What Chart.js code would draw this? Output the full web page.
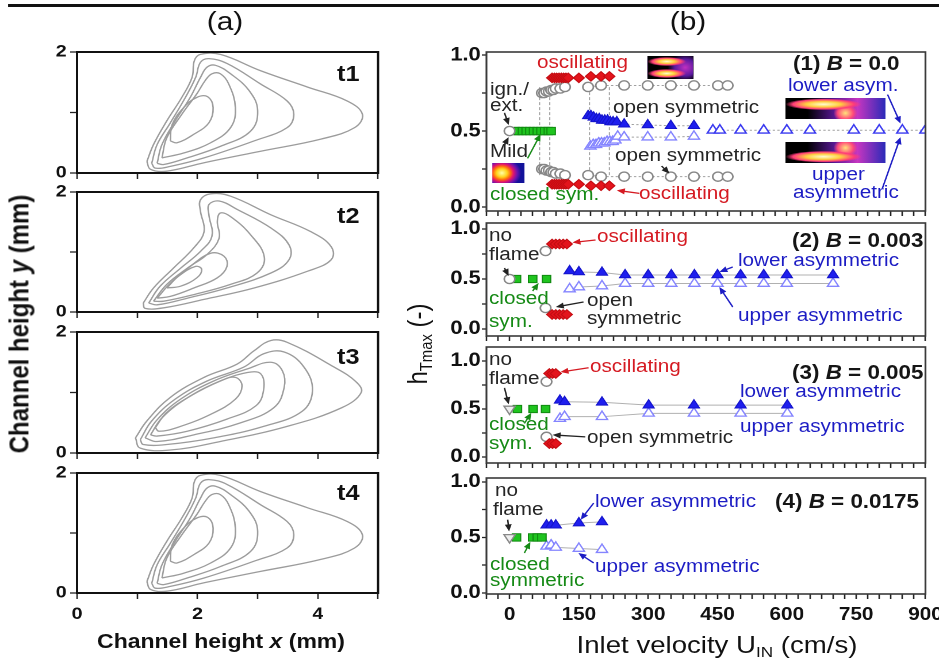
<!DOCTYPE html>
<html>
<head>
<meta charset="utf-8">
<script src="https://cdn.jsdelivr.net/npm/chart.js@4.4.1/dist/chart.umd.min.js"></script>
<style>
html, body { margin: 0; padding: 0; background: #fff; }
body { width: 939px; height: 664px; overflow: hidden; position: relative; font-family: "Liberation Sans", Arial, sans-serif; }
#stage { position: absolute; left: 0; top: 0; width: 817px; height: 664px; transform: scaleX(1.15); transform-origin: 0 0; }
canvas { position: absolute; }
.t { position: absolute; white-space: nowrap; line-height: 1; transform: translateY(-50%); font-size: 18px; color: #252525; }
.red { color: #d51a22; }
.blue { color: #1c1cc4; }
.green { color: #168a16; }
.bl { font-weight: bold; font-size: 19.5px; color: #151515; }
.tl { font-weight: bold; font-size: 22px; color: #111; }
.hd { font-size: 26px; color: #111; transform: translate(-50%, -50%); }
.ttl { font-weight: bold; font-size: 20px; color: #111; transform: translate(-50%, -50%); }
.rot { position: absolute; white-space: nowrap; line-height: 1; transform: translate(-50%, -50%) rotate(-90deg); color: #111; }
sub { font-size: 62%; vertical-align: -0.3em; line-height: 0; }
.ins { position: absolute; }
#rule { position: absolute; left: 7px; top: 4px; width: 810px; height: 3px; background: #111; }
</style>
</head>
<body>
<div id="stage"><div id="rule"></div></div>
<script>
// ---------- panel (a): contour lines, [x mm, y mm] ----------
const t1Outer = [[1.16,0.19],[1.27,0.47],[1.49,0.86],[1.74,1.25],[1.91,1.58],[1.95,1.86],[2.05,1.96],[2.38,1.96],[3.05,1.69],[3.83,1.42],[4.49,1.19],[4.74,0.97],[4.61,0.75],[4.05,0.56],[3.05,0.36],[2.11,0.17],[1.49,0.03],[1.22,0.06]];
const t1C2 = [[1.24,0.16],[1.33,0.47],[1.55,0.83],[1.8,1.25],[1.97,1.58],[2.05,1.83],[2.19,1.89],[2.49,1.81],[3.05,1.47],[3.49,1.19],[3.6,0.97],[3.49,0.75],[2.94,0.53],[2.11,0.25],[1.55,0.11],[1.3,0.08]];
const t1C3 = [[1.33,0.16],[1.41,0.47],[1.63,0.86],[1.88,1.25],[2.05,1.58],[2.16,1.75],[2.3,1.78],[2.55,1.64],[2.86,1.36],[3.0,1.03],[2.88,0.69],[2.38,0.44],[1.83,0.25],[1.44,0.14]];
const t1C4 = [[1.41,0.25],[1.49,0.58],[1.74,0.97],[1.99,1.31],[2.13,1.53],[2.24,1.64],[2.38,1.64],[2.52,1.47],[2.63,1.08],[2.55,0.75],[2.22,0.5],[1.77,0.33]];
const t1Inner = [[1.55,0.53],[1.58,0.8],[1.77,1.08],[1.99,1.25],[2.17,1.26],[2.26,1.08],[2.19,0.83],[1.94,0.64],[1.66,0.5]];

const t2Outer = [[1.1,0.15],[1.27,0.4],[1.6,0.73],[1.94,1.07],[2.11,1.34],[2.05,1.68],[2.05,1.87],[2.22,1.97],[2.55,1.93],[3.22,1.62],[3.88,1.34],[4.22,1.09],[4.22,0.87],[3.83,0.68],[2.94,0.4],[2.11,0.21],[1.44,0.07],[1.13,0.06]];
const t2C2 = [[1.19,0.15],[1.38,0.43],[1.72,0.73],[2.05,1.01],[2.24,1.26],[2.19,1.62],[2.19,1.79],[2.36,1.85],[2.66,1.71],[3.22,1.4],[3.52,1.12],[3.52,0.87],[3.22,0.65],[2.49,0.4],[1.83,0.23],[1.33,0.12]];
const t2C3 = [[1.27,0.18],[1.49,0.46],[1.83,0.73],[2.16,0.96],[2.36,1.23],[2.33,1.51],[2.38,1.65],[2.55,1.59],[2.88,1.29],[3.11,0.92],[2.99,0.65],[2.55,0.46],[1.94,0.29],[1.44,0.18]];
const t2C4 = [[1.33,0.23],[1.55,0.48],[1.88,0.76],[2.22,0.98],[2.44,0.93],[2.49,0.76],[2.33,0.57],[1.94,0.4],[1.55,0.26]];
const t2Inner = [[1.49,0.4],[1.69,0.6],[1.97,0.76],[2.07,0.71],[1.99,0.57],[1.72,0.43]];

const t3Outer = [[0.97,0.25],[1.16,0.53],[1.55,0.92],[2.11,1.25],[2.66,1.47],[2.94,1.69],[3.22,1.86],[3.49,1.83],[4.27,1.42],[4.63,1.18],[4.72,1.0],[4.4,0.75],[3.49,0.44],[2.38,0.19],[1.55,0.05],[1.05,0.08]];
const t3C2 = [[1.05,0.22],[1.24,0.53],[1.63,0.89],[2.16,1.19],[2.77,1.42],[3.1,1.64],[3.44,1.67],[3.77,1.42],[3.91,1.03],[3.74,0.69],[3.1,0.44],[2.27,0.25],[1.49,0.14],[1.1,0.14]];
const t3C3 = [[1.13,0.25],[1.33,0.55],[1.72,0.89],[2.27,1.19],[2.83,1.39],[3.22,1.5],[3.41,1.36],[3.44,1.08],[3.27,0.75],[2.72,0.5],[1.94,0.3],[1.33,0.19]];
const t3C4 = [[1.22,0.3],[1.41,0.58],[1.8,0.89],[2.33,1.17],[2.83,1.33],[3.05,1.31],[3.1,1.05],[2.97,0.78],[2.49,0.56],[1.83,0.36],[1.33,0.28]];
const t3Inner = [[1.3,0.42],[1.49,0.67],[1.88,0.94],[2.38,1.19],[2.63,1.25],[2.74,1.11],[2.63,0.89],[2.22,0.64],[1.66,0.42],[1.36,0.36]];

const t1Contours = [t1Outer, t1C2, t1C3, t1C4, t1Inner];
const t2Contours = [t2Outer, t2C2, t2C3, t2C4, t2Inner];
const t3Contours = [t3Outer, t3C2, t3C3, t3C4, t3Inner];
const t4Contours = t1Contours; // t4 looks the same as t1

const aTicksX = [0, 1, 2, 3, 4, 5];
const aTickLabelsX = [0, 2, 4];
const aTicksY = [0, 1, 2];
const aTickLabelsY = [0, 2];

// ---------- panel (b): h_Tmax vs inlet velocity ----------
// (1) B = 0.0
const b0MildX = [0], b0MildY = [0.5];
const b0ClosedX = [12, 20, 28, 36, 44, 52, 60, 68, 76, 84, 90];
const b0ClosedY = [0.5, 0.5, 0.5, 0.5, 0.5, 0.5, 0.5, 0.5, 0.5, 0.5, 0.5];
const b0IgnX = [70, 75, 80, 85, 90, 95, 100, 110, 120];
const b0IgnUpY = [0.75, 0.75, 0.76, 0.76, 0.77, 0.77, 0.78, 0.78, 0.79];
const b0IgnLoY = [0.25, 0.25, 0.24, 0.24, 0.23, 0.23, 0.22, 0.22, 0.21];
const b0OpenX = [170, 198, 248, 299, 349, 399, 451, 472];
const b0OpenUpY = [0.79, 0.8, 0.8, 0.8, 0.8, 0.8, 0.8, 0.8];
const b0OpenLoY = [0.21, 0.2, 0.2, 0.2, 0.2, 0.2, 0.2, 0.2];
const b0OscX = [92, 97, 102, 107, 112, 117, 122, 127, 150, 176, 198, 216];
const b0OscUpY = [0.85, 0.85, 0.85, 0.85, 0.85, 0.85, 0.85, 0.85, 0.85, 0.86, 0.86, 0.86];
const b0OscLoY = [0.15, 0.15, 0.15, 0.15, 0.15, 0.15, 0.15, 0.15, 0.15, 0.14, 0.14, 0.14];
const b0LowAsymX = [170, 176, 182, 188, 194, 200, 206, 212, 218, 224, 232, 248, 299, 349, 399];
const b0LowAsymY = [0.6, 0.6, 0.59, 0.58, 0.58, 0.57, 0.57, 0.57, 0.56, 0.56, 0.56, 0.545, 0.54, 0.535, 0.535];
const b0UpAsymX = [175, 181, 187, 193, 199, 205, 211, 217, 223, 229, 234, 248, 299, 349, 399];
const b0UpAsymY = [0.4, 0.41, 0.41, 0.42, 0.42, 0.42, 0.43, 0.43, 0.43, 0.44, 0.465, 0.46, 0.46, 0.46, 0.465];
const b0MergedX = [440, 455, 500, 550, 600, 650, 745, 800, 850, 900];
const b0MergedY = [0.505, 0.505, 0.505, 0.505, 0.505, 0.505, 0.505, 0.505, 0.505, 0.505];
const b0VLineX = [65, 87, 173, 216];
const b0VLineY = [0.21, 0.79];

// (2) B = 0.003
const b1NoFlameX = [0], b1NoFlameY = [0.5];
const b1ClosedX = [15, 50, 80], b1ClosedY = [0.5, 0.5, 0.5];
const b1OpenX = [78], b1OpenUpY = [0.78], b1OpenLoY = [0.21];
const b1OscX = [92, 100, 108, 116, 124];
const b1OscUpY = [0.85, 0.85, 0.85, 0.85, 0.85];
const b1OscLoY = [0.145, 0.145, 0.145, 0.145, 0.145];
const b1AsymX = [130, 150, 200, 250, 300, 350, 400, 450, 500, 550, 600, 700];
const b1LowAsymY = [0.58, 0.57, 0.565, 0.54, 0.54, 0.54, 0.54, 0.54, 0.54, 0.54, 0.54, 0.54];
const b1UpAsymY = [0.4, 0.42, 0.43, 0.455, 0.455, 0.455, 0.455, 0.455, 0.455, 0.455, 0.455, 0.455];

// (3) B = 0.005
const b2NoFlameX = [0], b2NoFlameY = [0.5];
const b2ClosedX = [17, 51, 78], b2ClosedY = [0.5, 0.5, 0.5];
const b2OpenX = [80], b2OpenUpY = [0.785], b2OpenLoY = [0.21];
const b2OscX = [86, 93, 100];
const b2OscUpY = [0.87, 0.87, 0.87];
const b2OscLoY = [0.14, 0.14, 0.14];
const b2AsymX = [109, 119, 200, 301, 399, 500, 601];
const b2LowAsymY = [0.59, 0.575, 0.57, 0.54, 0.54, 0.54, 0.54];
const b2UpAsymY = [0.4, 0.42, 0.42, 0.455, 0.455, 0.455, 0.455];

// (4) B = 0.0175
const b3NoFlameX = [0], b3NoFlameY = [0.5];
const b3ClosedX = [15, 50, 60, 70], b3ClosedY = [0.5, 0.5, 0.5, 0.5];
const b3AsymX = [80, 90, 100, 150, 200];
const b3LowAsymY = [0.61, 0.61, 0.61, 0.63, 0.64];
const b3UpAsymY = [0.42, 0.43, 0.41, 0.4, 0.39];

const bTickLabelsX = [0, 150, 300, 450, 600, 750, 900];
const bTicksY = [0, 0.25, 0.5, 0.75, 1];
const bTickLabelsY = [0, 0.5, 1];
const bTicksX = [];
for (let v = -50; v <= 900; v += 25) bTicksX.push(v);

// ---------- helpers ----------
const S = 1.15; // the figure is stretched horizontally
const FONT = '"Liberation Sans", Arial, sans-serif';
const stage = document.getElementById('stage');
Chart.defaults.font.family = FONT;

function addText(html, x, y, cls) {
  const d = document.createElement('div');
  d.className = 't ' + (cls || '');
  d.innerHTML = html;
  d.style.left = (x / S) + 'px';
  d.style.top = y + 'px';
  stage.appendChild(d);
  return d;
}

function addRot(html, x, y, style) {
  const d = document.createElement('div');
  d.className = 'rot';
  d.innerHTML = html;
  d.style.left = (x / S) + 'px';
  d.style.top = y + 'px';
  d.style.cssText += style;
  stage.appendChild(d);
}

function addInset(x1, y1, x2, y2, bg) {
  const d = document.createElement('div');
  d.className = 'ins';
  d.style.left = (x1 / S) + 'px';
  d.style.top = y1 + 'px';
  d.style.width = ((x2 - x1) / S) + 'px';
  d.style.height = (y2 - y1) + 'px';
  d.style.background = bg;
  stage.appendChild(d);
}

const framePlugin = {
  id: 'frame',
  afterDraw(chart, args, opts) {
    const a = chart.chartArea, c = chart.ctx;
    c.save();
    c.strokeStyle = opts.color;
    c.lineWidth = opts.width;
    c.strokeRect(a.left, a.top, a.right - a.left, a.bottom - a.top);
    c.restore();
  }
};

const arrowPlugin = {
  id: 'arrows',
  afterDatasetsDraw(chart, args, opts) {
    const xs = chart.scales.x, ys = chart.scales.y, c = chart.ctx;
    (opts.items || []).forEach(a => {
      const x1 = xs.getPixelForValue(a[0]), y1 = ys.getPixelForValue(a[1]);
      const x2 = xs.getPixelForValue(a[2]), y2 = ys.getPixelForValue(a[3]);
      const ang = Math.atan2(y2 - y1, x2 - x1);
      const cs = Math.cos(ang), sn = Math.sin(ang);
      c.save();
      c.strokeStyle = a[4];
      c.fillStyle = a[4];
      c.lineWidth = 1.3;
      c.beginPath();
      c.moveTo(x1, y1);
      c.lineTo(x2 - 4 * cs, y2 - 4 * sn);
      c.stroke();
      c.beginPath();
      c.moveTo(x2, y2);
      c.lineTo(x2 - 7 * cs + 3 * sn, y2 - 7 * sn - 3 * cs);
      c.lineTo(x2 - 7 * cs - 3 * sn, y2 - 7 * sn + 3 * cs);
      c.closePath();
      c.fill();
      c.restore();
    });
  }
};

function axis(dir, min, max, ticks, cb, size, pad, len, fixed) {
  return {
    type: 'linear', min: min, max: max,
    afterBuildTicks: s => { s.ticks = ticks.map(v => ({ value: v })); },
    afterFit: s => {
      if (dir === 'x') s.height = fixed; else s.width = fixed;
      s.paddingLeft = 0; s.paddingRight = 0; s.paddingTop = 0; s.paddingBottom = 0;
    },
    grid: { drawOnChartArea: false, drawTicks: true, tickLength: len, tickColor: '#222', tickWidth: 1.3 },
    border: { display: false },
    ticks: { autoSkip: false, maxRotation: 0, padding: pad, color: '#111', font: { family: FONT, size: size, weight: 'bold' }, callback: cb }
  };
}

function makePanel(box, axisW, axisH, scales, datasets, frame, arrows) {
  const padT = 14, padR = 18;
  const areaW = (box.r - box.l) / S;
  const cw = Math.round(areaW + axisW + padR);
  const ch = box.b - box.t + padT + axisH;
  const cv = document.createElement('canvas');
  cv.width = cw;
  cv.height = ch;
  cv.style.left = (box.l / S - axisW) + 'px';
  cv.style.top = (box.t - padT) + 'px';
  stage.insertBefore(cv, stage.firstChild);
  return new Chart(cv, {
    type: 'scatter',
    data: { datasets: datasets },
    options: {
      responsive: false, animation: false, devicePixelRatio: 2, events: [],
      layout: { padding: { left: 0, top: padT, right: cw - axisW - areaW, bottom: 0 } },
      scales: scales,
      plugins: { legend: { display: false }, tooltip: { enabled: false }, frame: frame, arrows: { items: arrows } }
    },
    plugins: [framePlugin, arrowPlugin]
  });
}

function pts(xs, ys) { return xs.map((x, i) => ({ x: x, y: ys[i] })); }

const mGrey = { pointStyle: 'circle', pointRadius: 4.6, pointBackgroundColor: '#fff', pointBorderColor: '#878787', pointBorderWidth: 1.4 };
const mRed = { pointStyle: 'rectRot', pointRadius: 4.8, pointBackgroundColor: '#e3141c', pointBorderColor: '#c40c12', pointBorderWidth: 1 };
const mGreen = { pointStyle: 'rect', pointRadius: 5.2, pointBackgroundColor: '#1fc41f', pointBorderColor: '#118a11', pointBorderWidth: 1 };
const mBlue = { pointStyle: 'triangle', pointRadius: 5.6, pointBackgroundColor: '#1f1fee', pointBorderColor: '#1414cc', pointBorderWidth: 1 };
const mOpen = { pointStyle: 'triangle', pointRadius: 5.6, pointBackgroundColor: '#fff', pointBorderColor: '#8585ff', pointBorderWidth: 1.3 };
const mMerged = { pointStyle: 'triangle', pointRadius: 5.6, pointBackgroundColor: '#fff', pointBorderColor: '#3a3af0', pointBorderWidth: 1.4 };
const mDown = { pointStyle: 'triangle', pointRotation: 180, pointRadius: 5.6, pointBackgroundColor: '#eee', pointBorderColor: '#888', pointBorderWidth: 1.3 };
const dotted = { showLine: true, borderColor: '#a0a0a0', borderWidth: 1, borderDash: [2, 2] };
const thin = { showLine: true, borderColor: '#b0b0b0', borderWidth: 1 };

function set(xs, ys, marker, line) {
  return Object.assign({ data: pts(xs, ys), showLine: false, order: line ? 2 : 1 }, marker, line || {});
}

// ---------- panel (a) ----------
const aBoxes = [[52, 173], [192, 312], [332, 453], [473, 593]];
const aSets = [t1Contours, t2Contours, t3Contours, t4Contours];
aBoxes.forEach((bt, i) => {
  const last = i === 3;
  const ds = aSets[i].map(c => ({
    data: c.concat([c[0]]).map(p => ({ x: p[0], y: p[1] })),
    showLine: true, tension: 0.4, pointRadius: 0, borderColor: '#9c9c9c', borderWidth: 1.3
  }));
  makePanel({ l: 77, r: 378, t: bt[0], b: bt[1] }, 60, last ? 40 : 12, {
    x: axis('x', 0, 5, aTicksX, v => (last && aTickLabelsX.includes(v)) ? String(v) : '', 17, 5, 6, last ? 40 : 12),
    y: axis('y', 0, 2, aTicksY, v => aTickLabelsY.includes(v) ? String(v) : '', 17, 3, 6, 60)
  }, ds, { color: '#111', width: 2 }, []);
});

// ---------- panel (b) ----------
const bL = 486, bR = 925;
function bScales(ymin, ymax, showX, axisH) {
  return {
    x: axis('x', -50, 900, bTicksX, v => (showX && bTickLabelsX.includes(v)) ? String(v) : '', 18, 5, 5, axisH),
    y: axis('y', ymin, ymax, bTicksY, v => bTickLabelsY.includes(v) ? v.toFixed(1) : '', 19, 1, 4, 60)
  };
}
const bFrame = { color: '#3a3a3a', width: 1.6 };
const K = '#222', R = '#d51a22', Bc = '#1c1cc4', G = '#168a16';

const p1Sets = [
  set(b0MildX, b0MildY, mGrey),
  set(b0OscX, b0OscUpY, mRed),
  set(b0OscX, b0OscLoY, mRed),
  set(b0ClosedX, b0ClosedY, mGreen),
  set(b0IgnX, b0IgnUpY, mGrey),
  set(b0IgnX, b0IgnLoY, mGrey),
  set(b0LowAsymX, b0LowAsymY, mBlue, dotted),
  set(b0UpAsymX, b0UpAsymY, mOpen, dotted),
  set(b0MergedX, b0MergedY, mMerged, dotted),
  set(b0OpenX, b0OpenUpY, mGrey, dotted),
  set(b0OpenX, b0OpenLoY, mGrey, dotted)
].concat(b0VLineX.map(x => Object.assign({ data: [{ x: x, y: b0VLineY[0] }, { x: x, y: b0VLineY[1] }], pointRadius: 0, order: 3 }, dotted, { borderDash: [3, 2] })));

makePanel({ l: bL, r: bR, t: 52, b: 211 }, 60, 10, bScales(-0.026, 1.02, false, 10), p1Sets, bFrame, [
  [-11, 0.62, -2, 0.54, K], [-11, 0.41, -2, 0.46, K], [39, 0.32, 67, 0.48, G],
  [329, 0.27, 346, 0.22, K], [281, 0.09, 232, 0.11, R], [818, 0.74, 846, 0.55, Bc], [807, 0.125, 846, 0.46, Bc]
]);

const p2Sets = [
  set(b1NoFlameX, b1NoFlameY, mGrey),
  set(b1ClosedX, b1ClosedY, mGreen),
  set(b1OscX, b1OscUpY, mRed),
  set(b1OscX, b1OscLoY, mRed),
  set(b1OpenX, b1OpenUpY, mGrey),
  set(b1OpenX, b1OpenLoY, mGrey),
  set(b1AsymX, b1LowAsymY, mBlue, thin),
  set(b1AsymX, b1UpAsymY, mOpen, thin)
];
makePanel({ l: bL, r: bR, t: 223, b: 336 }, 60, 10, bScales(-0.07, 1.06, false, 10), p2Sets, bFrame, [
  [-11, 0.61, -2, 0.53, K], [50, 0.38, 63, 0.46, G], [186, 0.89, 136, 0.865, R],
  [160, 0.27, 100, 0.22, K], [483, 0.62, 454, 0.57, Bc], [483, 0.22, 454, 0.42, Bc]
]);

const p3Sets = [
  set(b2NoFlameX, b2NoFlameY, mDown),
  set(b2ClosedX, b2ClosedY, mGreen),
  set(b2OscX, b2OscUpY, mRed),
  set(b2OscX, b2OscLoY, mRed),
  set(b2OpenX, b2OpenUpY, mGrey),
  set(b2OpenX, b2OpenLoY, mGrey),
  set(b2AsymX, b2LowAsymY, mBlue, thin),
  set(b2AsymX, b2UpAsymY, mOpen, thin)
];
makePanel({ l: bL, r: bR, t: 347, b: 463 }, 60, 10, bScales(-0.0625, 1.146, false, 10), p3Sets, bFrame, [
  [-11, 0.72, -2, 0.55, K], [32, 0.35, 47, 0.46, G], [171, 0.93, 110, 0.885, R], [164, 0.21, 93, 0.23, K]
]);

const p4Sets = [
  set(b3NoFlameX, b3NoFlameY, mDown),
  set(b3ClosedX, b3ClosedY, mGreen),
  set(b3AsymX, b3LowAsymY, mBlue, thin),
  set(b3AsymX, b3UpAsymY, mOpen, thin)
];
makePanel({ l: bL, r: bR, t: 478, b: 594 }, 60, 36, bScales(-0.01, 1.036, true, 36), p4Sets, bFrame, [
  [-4, 0.66, -1, 0.555, K], [32, 0.36, 45, 0.46, G], [182, 0.81, 154, 0.66, Bc], [182, 0.27, 149, 0.36, Bc]
]);

// ---------- flame insets ----------
addInset(647, 56, 694, 79,
  'radial-gradient(ellipse 42% 20% at 42% 24%, #fffbd0 0%, #ffd23a 40%, #ff3d78 75%, rgba(0,0,0,0) 100%),' +
  'radial-gradient(ellipse 42% 20% at 42% 76%, #fffbd0 0%, #ffd23a 40%, #ff3d78 75%, rgba(0,0,0,0) 100%),' +
  'radial-gradient(ellipse 38% 60% at 82% 50%, #c22fc0 0%, #5a1aa0 60%, rgba(0,0,0,0) 100%), #000');
addInset(785, 98, 885, 119,
  'radial-gradient(ellipse 38% 28% at 38% 30%, #fffbd0 0%, #ffd040 45%, #ff3c78 80%, rgba(0,0,0,0) 100%),' +
  'radial-gradient(ellipse 12% 45% at 60% 72%, #ffe27a 0%, #ff4a7a 65%, rgba(0,0,0,0) 100%),' +
  'linear-gradient(to right, #000 0%, #000 22%, #5a1898 50%, #c636c0 72%, #2a2ab8 100%)');
addInset(785, 142, 885, 163,
  'radial-gradient(ellipse 38% 28% at 38% 70%, #fffbd0 0%, #ffd040 45%, #ff3c78 80%, rgba(0,0,0,0) 100%),' +
  'radial-gradient(ellipse 12% 45% at 60% 28%, #ffe27a 0%, #ff4a7a 65%, rgba(0,0,0,0) 100%),' +
  'linear-gradient(to right, #000 0%, #000 22%, #5a1898 50%, #c636c0 72%, #2a2ab8 100%)');
addInset(492, 163, 524, 183,
  'radial-gradient(ellipse 60% 75% at 30% 50%, #ffffa8 0%, #ffd21a 28%, #ff6a10 45%, #e0146e 60%, #6a12b0 80%, #12129a 100%)');

// ---------- texts ----------
addText('(a)', 225, 21, 'hd');
addText('(b)', 688, 21, 'hd');
addText('t1', 337, 74, 'tl');
addText('t2', 337, 216, 'tl');
addText('t3', 337, 357, 'tl');
addText('t4', 337, 493, 'tl');
addText('Channel height <i>x</i> (mm)', 221, 641, 'ttl');
addRot('Channel height <i>y</i> (mm)', 19, 324, 'font-weight:bold;font-size:24px;');
addRot('h<sub>Tmax</sub> (-)', 417, 344, 'font-size:24px;');
addText('Inlet velocity U<sub>IN</sub> (cm/s)', 717, 645, 'ttl').style.cssText += 'font-weight:normal;font-size:24px;';

// (1)
addText('oscillating', 537, 62, 'red');
addText('ign./', 490, 89);
addText('ext.', 490, 105);
addText('Mild', 490, 151);
addText('closed sym.', 490, 194, 'green');
addText('open symmetric', 613, 107);
addText('open symmetric', 615, 155);
addText('oscillating', 639, 193, 'red');
addText('(1) <i>B</i> = 0.0', 793, 64, 'bl');
addText('lower asym.', 788, 85, 'blue');
addText('upper', 812, 174, 'blue');
addText('asymmetric', 793, 192, 'blue');
// (2)
addText('no', 489, 235);
addText('flame', 489, 254);
addText('closed', 489, 298, 'green');
addText('sym.', 489, 321, 'green');
addText('oscillating', 597, 236, 'red');
addText('open', 587, 300);
addText('symmetric', 587, 318);
addText('(2) <i>B</i> = 0.003', 792, 241, 'bl');
addText('lower asymmetric', 738, 260, 'blue');
addText('upper asymmetric', 738, 315, 'blue');
// (3)
addText('no', 489, 359);
addText('flame', 489, 378);
addText('closed', 489, 424, 'green');
addText('sym.', 489, 443, 'green');
addText('oscillating', 590, 366, 'red');
addText('open symmetric', 587, 437);
addText('(3) <i>B</i> = 0.005', 792, 373, 'bl');
addText('lower asymmetric', 740, 391, 'blue');
addText('upper asymmetric', 740, 426, 'blue');
// (4)
addText('no', 495, 490);
addText('flame', 493, 509);
addText('closed', 490, 564, 'green');
addText('symmetric', 490, 580, 'green');
addText('lower asymmetric', 595, 501, 'blue');
addText('(4) <i>B</i> = 0.0175', 775, 502, 'bl');
addText('upper asymmetric', 595, 566, 'blue');
</script>
</body>
</html>
